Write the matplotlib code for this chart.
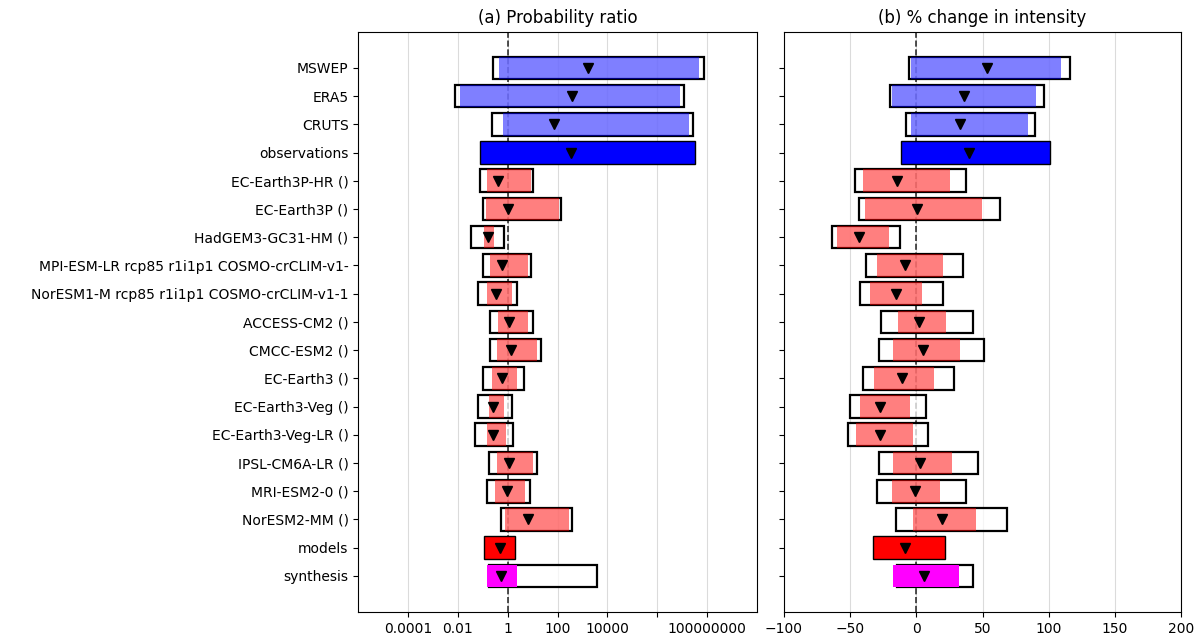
import numpy as np
import matplotlib.pyplot as plt

labels = ["MSWEP", "ERA5", "CRUTS", "observations",
          "EC-Earth3P-HR ()", "EC-Earth3P ()", "HadGEM3-GC31-HM ()",
          "MPI-ESM-LR rcp85 r1i1p1 COSMO-crCLIM-v1-",
          "NorESM1-M rcp85 r1i1p1 COSMO-crCLIM-v1-1",
          "ACCESS-CM2 ()", "CMCC-ESM2 ()", "EC-Earth3 ()", "EC-Earth3-Veg ()",
          "EC-Earth3-Veg-LR ()", "IPSL-CM6A-LR ()", "MRI-ESM2-0 ()", "NorESM2-MM ()",
          "models", "synthesis"]
kind = ["obs", "obs", "obs", "obs_total"] + ["model"] * 13 + ["model_total", "synth"]

# (a) probability ratio: best estimate, inner (natural variability) bar, outer box
pr_best = [1600, 370, 71, 350, 0.42, 1.0, 0.16, 0.58, 0.35, 1.1, 1.4, 0.58, 0.26,
           0.26, 1.17, 0.93, 6.6, 0.50, 0.55]
pr_lo = [0.46, 0.012, 0.65, 0.079, 0.15, 0.13, 0.11, 0.19, 0.15, 0.41, 0.37, 0.23, 0.17,
         0.14, 0.37, 0.30, 0.78, 0.107, 0.14]
pr_hi = [4.7e7, 7.8e6, 1.9e7, 3.2e7, 8.5, 115, 0.29, 6.2, 1.45, 6.6, 15, 2.45, 0.72,
         0.83, 10.7, 5.0, 275, 2.04, 2.3]
pr_box_lo = [0.26, 0.0076, 0.24, None, 0.074, 0.098, 0.033, 0.098, 0.066, 0.19, 0.19,
             0.098, 0.062, 0.05, 0.18, 0.15, 0.54, None, 0.17]
pr_box_hi = [7.2e7, 1.2e7, 2.7e7, None, 10.5, 135, 0.69, 8.9, 2.45, 10.7, 22, 4.4, 1.45,
             1.6, 15.5, 7.9, 363, None, 3900]

# (b) % change in intensity
di_best = [53.1, 36.3, 33.0, 40.1, -14.4, 0.3, -43.3, -8.8, -15.1, 2.0, 4.8, -10.8,
           -27.7, -27.7, 2.8, -0.8, 19.4, -8.6, 5.8]
di_lo = [-4.3, -18.1, -4.3, -11.8, -40.3, -38.5, -59.7, -29.7, -35.3, -13.9, -17.6,
         -32.2, -42.6, -45.8, -17.6, -18.4, -2.5, -32.5, -17.6]
di_hi = [109.3, 90.7, 84.1, 101.3, 25.4, 49.9, -20.9, 19.9, 4.5, 22.2, 32.7, 13.4,
         -5.0, -2.5, 27.2, 17.6, 44.8, 21.9, 32.0]
di_box_lo = [-5.8, -19.6, -7.6, None, -46.1, -43.6, -63.7, -37.8, -42.8, -26.4, -28.2,
             -40.3, -49.9, -51.9, -28.2, -29.7, -15.4, None, -14.4]
di_box_hi = [116.4, 96.2, 89.9, None, 37.8, 63.5, -12.6, 35.3, 20.2, 42.6, 51.4, 28.7,
             7.3, 9.1, 46.6, 37.8, 68.3, None, 42.6]

pr_ticks = [1e-4, 1e-2, 1, 1e2, 1e4, 1e6, 1e8]
pr_ticklabels = ["0.0001", "0.01", "1", "100", "10000", "", "100000000"]

styles = {"obs": dict(color="blue", alpha=0.5),
          "obs_total": dict(color="blue", alpha=1.0),
          "model": dict(color="red", alpha=0.5),
          "model_total": dict(color="red", alpha=1.0),
          "synth": dict(color="magenta", alpha=1.0)}

fig = plt.figure(figsize=(12.01, 6.41), dpi=100)
ax1 = fig.add_axes([0.2983, 0.0452, 0.3320, 0.9053])
ax2 = fig.add_axes([0.6528, 0.0452, 0.3306, 0.9053])

y = np.arange(len(labels))
h = 0.8


def draw(ax, best, lo, hi, blo, bhi, ref):
    ax.grid(axis="x", color="lightgray", alpha=0.8, zorder=0)
    ax.axvline(ref, color="black", ls="--", lw=1.2, alpha=0.8, zorder=2)
    for i in range(len(labels)):
        st = styles[kind[i]]
        if blo[i] is not None:
            ax.barh(y[i], bhi[i] - blo[i], left=blo[i], height=h,
                    facecolor=(1, 1, 1, 0.75), edgecolor="black", lw=1.6, zorder=3)
        if st["alpha"] < 1:
            ax.barh(y[i], hi[i] - lo[i], left=lo[i], height=h,
                    color=st["color"], alpha=0.5, lw=0, zorder=4)
        else:
            ebc = "black" if kind[i] != "synth" else "none"
            ax.barh(y[i], hi[i] - lo[i], left=lo[i], height=h,
                    facecolor=st["color"], edgecolor=ebc, lw=1, zorder=4)
        ax.plot(best[i], y[i], marker="v", color="black", ms=7, ls="none", zorder=5)
    ax.set_yticks(y)
    ax.set_ylim(len(labels) - 1 + 1.28, -1.28)
    ax.set_axisbelow(True)


draw(ax1, pr_best, pr_lo, pr_hi, pr_box_lo, pr_box_hi, 1)
ax1.set_xscale("log")
ax1.set_xlim(1e-6, 1e10)
ax1.set_xticks(pr_ticks)
ax1.set_xticklabels(pr_ticklabels)
ax1.minorticks_off()
ax1.set_yticklabels(labels, fontsize=10)
ax1.set_title("(a) Probability ratio", fontsize=12)

draw(ax2, di_best, di_lo, di_hi, di_box_lo, di_box_hi, 0)
ax2.set_xlim(-100, 200)
ax2.set_xticks([-100, -50, 0, 50, 100, 150, 200])
ax2.set_yticklabels([])
ax2.set_title("(b) % change in intensity", fontsize=12)

fig.savefig("out.png", dpi=100)
